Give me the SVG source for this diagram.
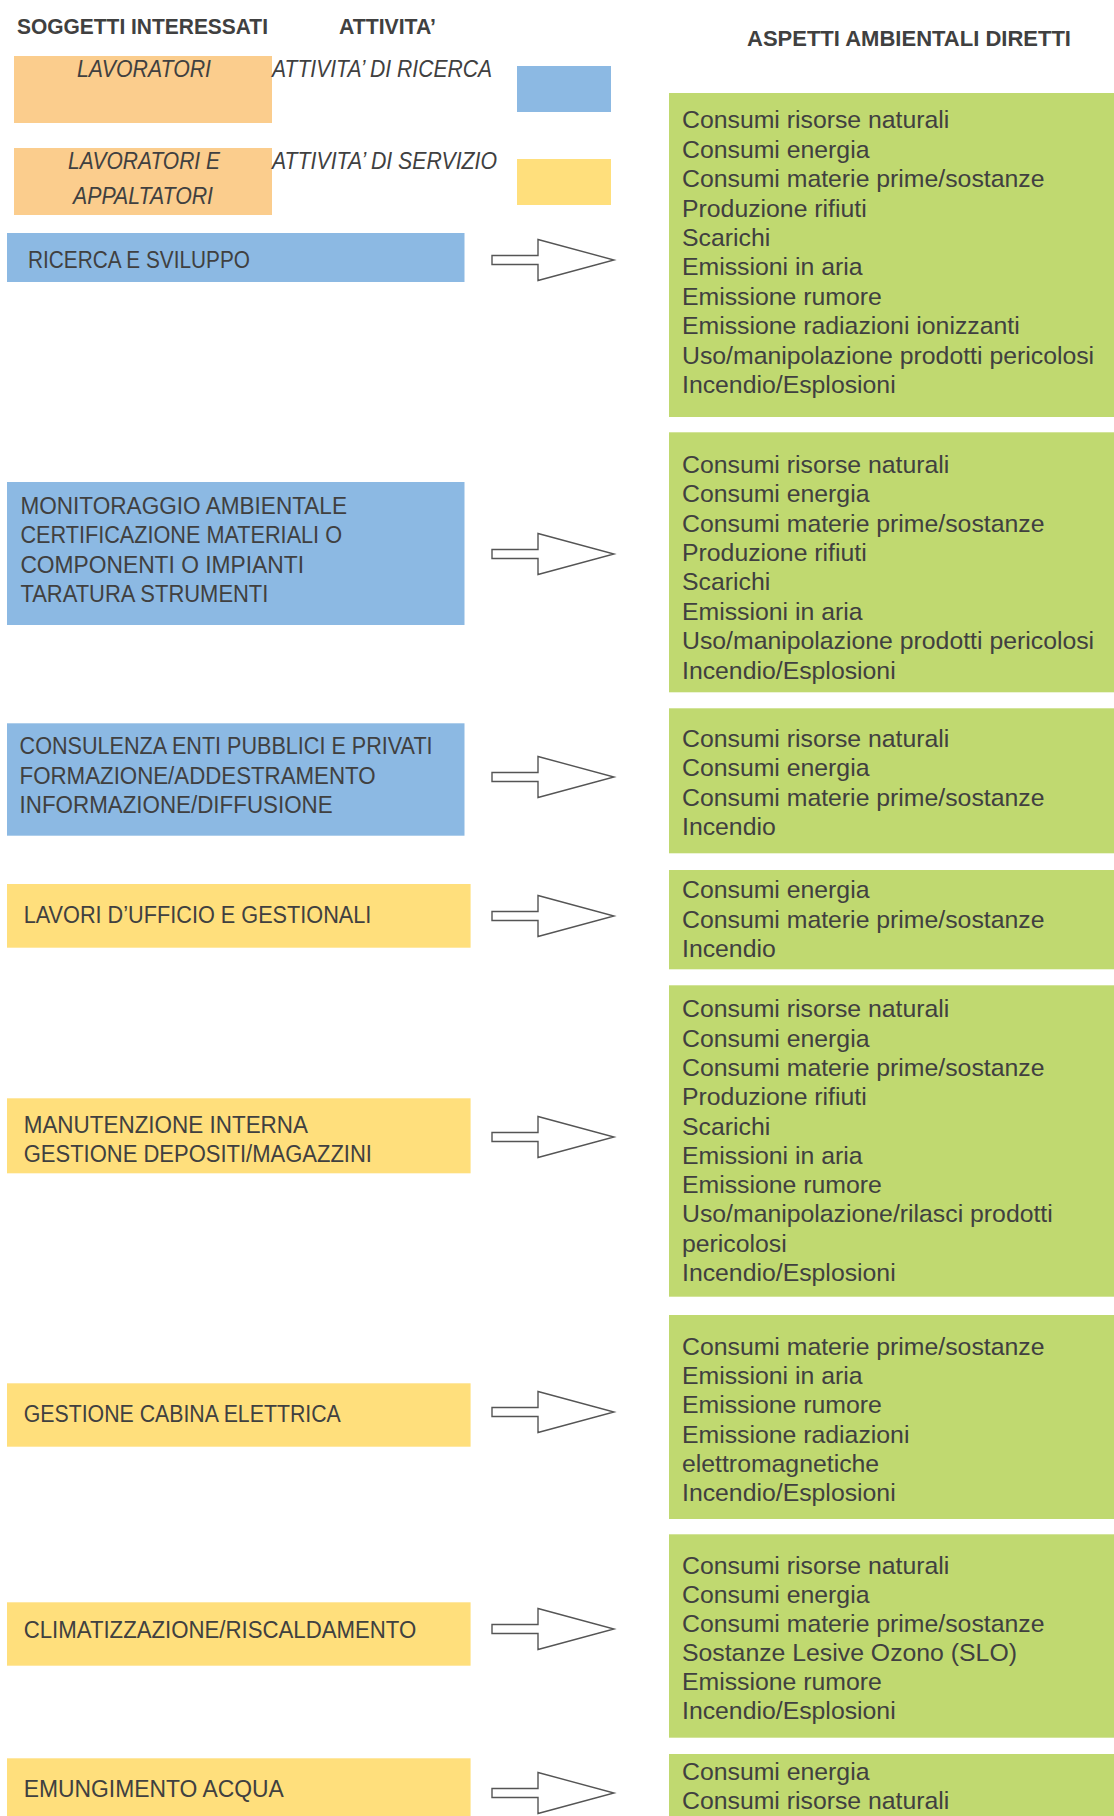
<svg xmlns="http://www.w3.org/2000/svg" width="1114" height="1816" viewBox="0 0 1114 1816">
<style>
.bg{fill:#ffffff}
.orange{fill:#FBCD8D}
.blue{fill:#8CB9E3}
.yellow{fill:#FFDF7C}
.green{fill:#C0D970}
.hdr{font-family:"Liberation Sans",Arial,sans-serif;font-weight:bold;fill:#404040}
.it{font-family:"Liberation Sans",Arial,sans-serif;font-style:italic;font-size:23.5px;fill:#404040}
.cap{font-family:"Liberation Sans",Arial,sans-serif;font-size:23px;fill:#404040}
.lst{font-family:"Liberation Sans",Arial,sans-serif;font-size:24.8px;fill:#404040}
.arr{fill:#ffffff;stroke:#555555;stroke-width:1.4;stroke-linejoin:miter}
</style>
<defs>
<polygon id="blockArrow" points="492,-4.5 538,-4.5 538,-20.5 614,0 538,20.5 538,4.5 492,4.5"/>
</defs>
<rect class="bg" x="0" y="0" width="1114" height="1816"/>

<g id="headers">
<text class="hdr" x="17" y="34" font-size="22" textLength="251" lengthAdjust="spacingAndGlyphs">SOGGETTI INTERESSATI</text>
<text class="hdr" x="339" y="34" font-size="22" textLength="97" lengthAdjust="spacingAndGlyphs">ATTIVITA’</text>
<text class="hdr" x="747" y="46" font-size="21.5" textLength="324" lengthAdjust="spacingAndGlyphs">ASPETTI AMBIENTALI DIRETTI</text>
</g>

<g id="legend-lavoratori">
<rect class="orange" x="14" y="56" width="258" height="67"/>
<text class="it" x="77" y="77" textLength="134" lengthAdjust="spacingAndGlyphs">LAVORATORI</text>
</g>
<g id="legend-ricerca">
<text class="it" x="272" y="77" textLength="220" lengthAdjust="spacingAndGlyphs">ATTIVITA’ DI RICERCA</text>
<rect class="blue" x="517" y="66" width="94" height="46"/>
</g>
<g id="legend-lavoratori-appaltatori">
<rect class="orange" x="14" y="148" width="258" height="67"/>
<text class="it" x="68" y="169" textLength="152" lengthAdjust="spacingAndGlyphs">LAVORATORI E</text>
<text class="it" x="73" y="204" textLength="140" lengthAdjust="spacingAndGlyphs">APPALTATORI</text>
</g>
<g id="legend-servizio">
<text class="it" x="272" y="169" textLength="225" lengthAdjust="spacingAndGlyphs">ATTIVITA’ DI SERVIZIO</text>
<rect class="yellow" x="517" y="159" width="94" height="46"/>
</g>

<!-- Activities -->
<g id="act-ricerca">
<rect class="blue" x="7" y="233" width="457.5" height="49"/>
<text class="cap" x="28" y="268" textLength="222" lengthAdjust="spacingAndGlyphs">RICERCA E SVILUPPO</text>
</g>
<g id="act-monitoraggio">
<rect class="blue" x="7" y="482" width="457.5" height="143"/>
<text class="cap" x="20.4" y="514.3" textLength="326.6" lengthAdjust="spacingAndGlyphs">MONITORAGGIO AMBIENTALE</text>
<text class="cap" x="20.4" y="543.3" textLength="321.6" lengthAdjust="spacingAndGlyphs">CERTIFICAZIONE MATERIALI O</text>
<text class="cap" x="20.4" y="572.7" textLength="283.6" lengthAdjust="spacingAndGlyphs">COMPONENTI O IMPIANTI</text>
<text class="cap" x="20.4" y="602" textLength="248" lengthAdjust="spacingAndGlyphs">TARATURA STRUMENTI</text>
</g>
<g id="act-consulenza">
<rect class="blue" x="7" y="723.3" width="457.5" height="112.4"/>
<text class="cap" x="19.6" y="754.3" textLength="413" lengthAdjust="spacingAndGlyphs">CONSULENZA ENTI PUBBLICI E PRIVATI</text>
<text class="cap" x="19.6" y="784" textLength="356" lengthAdjust="spacingAndGlyphs">FORMAZIONE/ADDESTRAMENTO</text>
<text class="cap" x="19.6" y="813.3" textLength="313" lengthAdjust="spacingAndGlyphs">INFORMAZIONE/DIFFUSIONE</text>
</g>
<g id="act-ufficio">
<rect class="yellow" x="7" y="884" width="463.6" height="63.7"/>
<text class="cap" x="23.7" y="922.7" textLength="347.7" lengthAdjust="spacingAndGlyphs">LAVORI D’UFFICIO E GESTIONALI</text>
</g>
<g id="act-manutenzione">
<rect class="yellow" x="7" y="1098.3" width="463.6" height="75"/>
<text class="cap" x="23.7" y="1132.7" textLength="284.3" lengthAdjust="spacingAndGlyphs">MANUTENZIONE INTERNA</text>
<text class="cap" x="23.7" y="1162.3" textLength="348.3" lengthAdjust="spacingAndGlyphs">GESTIONE DEPOSITI/MAGAZZINI</text>
</g>
<g id="act-cabina">
<rect class="yellow" x="7" y="1383.3" width="463.6" height="63.4"/>
<text class="cap" x="23.7" y="1421.7" textLength="317.1" lengthAdjust="spacingAndGlyphs">GESTIONE CABINA ELETTRICA</text>
</g>
<g id="act-clima">
<rect class="yellow" x="7" y="1602.3" width="463.6" height="63.4"/>
<text class="cap" x="23.7" y="1638.3" textLength="392.6" lengthAdjust="spacingAndGlyphs">CLIMATIZZAZIONE/RISCALDAMENTO</text>
</g>
<g id="act-emungimento">
<rect class="yellow" x="7" y="1758.3" width="463.6" height="60"/>
<text class="cap" x="23.7" y="1796.7" textLength="260" lengthAdjust="spacingAndGlyphs">EMUNGIMENTO ACQUA</text>
</g>

<!-- Aspects -->
<g id="asp-ricerca">
<rect class="green" x="669" y="93" width="445" height="324"/>
<text class="lst" x="682" y="128.3"><tspan x="682">Consumi risorse naturali</tspan><tspan x="682" dy="29.4">Consumi energia</tspan><tspan x="682" dy="29.4">Consumi materie prime/sostanze</tspan><tspan x="682" dy="29.4">Produzione rifiuti</tspan><tspan x="682" dy="29.4">Scarichi</tspan><tspan x="682" dy="29.4">Emissioni in aria</tspan><tspan x="682" dy="29.4">Emissione rumore</tspan><tspan x="682" dy="29.4">Emissione radiazioni ionizzanti</tspan><tspan x="682" dy="29.4">Uso/manipolazione prodotti pericolosi</tspan><tspan x="682" dy="29.4">Incendio/Esplosioni</tspan></text>
</g>
<g id="asp-monitoraggio">
<rect class="green" x="669" y="432.3" width="445" height="260"/>
<text class="lst" x="682" y="472.7"><tspan x="682">Consumi risorse naturali</tspan><tspan x="682" dy="29.4">Consumi energia</tspan><tspan x="682" dy="29.4">Consumi materie prime/sostanze</tspan><tspan x="682" dy="29.4">Produzione rifiuti</tspan><tspan x="682" dy="29.4">Scarichi</tspan><tspan x="682" dy="29.4">Emissioni in aria</tspan><tspan x="682" dy="29.4">Uso/manipolazione prodotti pericolosi</tspan><tspan x="682" dy="29.4">Incendio/Esplosioni</tspan></text>
</g>
<g id="asp-consulenza">
<rect class="green" x="669" y="708.3" width="445" height="145"/>
<text class="lst" x="682" y="746.7"><tspan x="682">Consumi risorse naturali</tspan><tspan x="682" dy="29.4">Consumi energia</tspan><tspan x="682" dy="29.4">Consumi materie prime/sostanze</tspan><tspan x="682" dy="29.4">Incendio</tspan></text>
</g>
<g id="asp-ufficio">
<rect class="green" x="669" y="870" width="445" height="99.3"/>
<text class="lst" x="682" y="898.3"><tspan x="682">Consumi energia</tspan><tspan x="682" dy="29.4">Consumi materie prime/sostanze</tspan><tspan x="682" dy="29.4">Incendio</tspan></text>
</g>
<g id="asp-manutenzione">
<rect class="green" x="669" y="985.3" width="445" height="311.4"/>
<text class="lst" x="682" y="1017.3"><tspan x="682">Consumi risorse naturali</tspan><tspan x="682" dy="29.3">Consumi energia</tspan><tspan x="682" dy="29.3">Consumi materie prime/sostanze</tspan><tspan x="682" dy="29.3">Produzione rifiuti</tspan><tspan x="682" dy="29.3">Scarichi</tspan><tspan x="682" dy="29.3">Emissioni in aria</tspan><tspan x="682" dy="29.3">Emissione rumore</tspan><tspan x="682" dy="29.3">Uso/manipolazione/rilasci prodotti</tspan><tspan x="682" dy="29.3">pericolosi</tspan><tspan x="682" dy="29.3">Incendio/Esplosioni</tspan></text>
</g>
<g id="asp-cabina">
<rect class="green" x="669" y="1315" width="445" height="204"/>
<text class="lst" x="682" y="1355"><tspan x="682">Consumi materie prime/sostanze</tspan><tspan x="682" dy="29.2">Emissioni in aria</tspan><tspan x="682" dy="29.2">Emissione rumore</tspan><tspan x="682" dy="29.2">Emissione radiazioni</tspan><tspan x="682" dy="29.2">elettromagnetiche</tspan><tspan x="682" dy="29.2">Incendio/Esplosioni</tspan></text>
</g>
<g id="asp-clima">
<rect class="green" x="669" y="1534.3" width="445" height="203.4"/>
<text class="lst" x="682" y="1574.3"><tspan x="682">Consumi risorse naturali</tspan><tspan x="682" dy="29">Consumi energia</tspan><tspan x="682" dy="29">Consumi materie prime/sostanze</tspan><tspan x="682" dy="29">Sostanze Lesive Ozono (SLO)</tspan><tspan x="682" dy="29">Emissione rumore</tspan><tspan x="682" dy="29">Incendio/Esplosioni</tspan></text>
</g>
<g id="asp-emungimento">
<rect class="green" x="669" y="1754" width="445" height="62"/>
<text class="lst" x="682" y="1780"><tspan x="682">Consumi energia</tspan><tspan x="682" dy="29">Consumi risorse naturali</tspan></text>
</g>

<g id="connectors">
<use href="#blockArrow" class="arr" transform="translate(0,260)"/>
<use href="#blockArrow" class="arr" transform="translate(0,554)"/>
<use href="#blockArrow" class="arr" transform="translate(0,777)"/>
<use href="#blockArrow" class="arr" transform="translate(0,916)"/>
<use href="#blockArrow" class="arr" transform="translate(0,1137)"/>
<use href="#blockArrow" class="arr" transform="translate(0,1412)"/>
<use href="#blockArrow" class="arr" transform="translate(0,1629)"/>
<use href="#blockArrow" class="arr" transform="translate(0,1793)"/>
</g>
</svg>
